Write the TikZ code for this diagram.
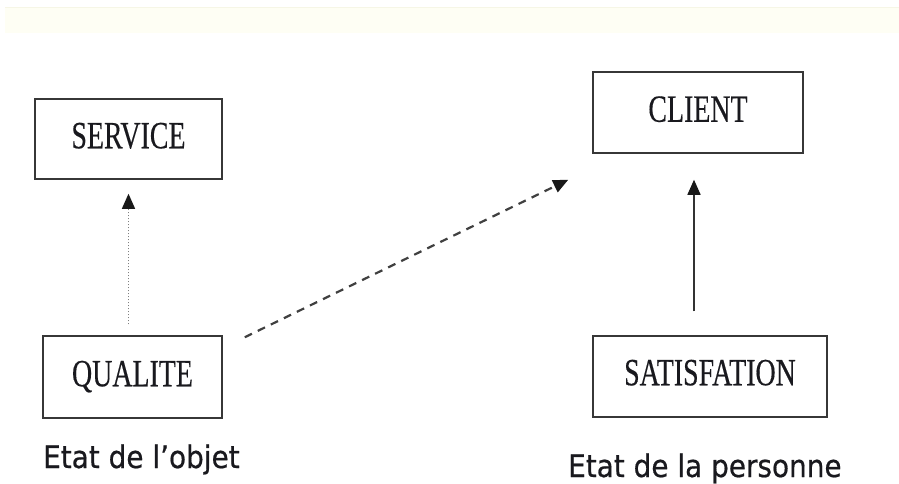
\documentclass[tikz,border=0pt]{standalone}
\usepackage{fontspec}
\usetikzlibrary{arrows.meta}
\newfontfamily\boxfont[FakeBold=0.4]{Liberation Serif}
\newfontfamily\capfont[FakeBold=0.6]{DejaVu Sans}
\definecolor{bandcol}{RGB}{254,254,244}
\definecolor{bandline}{RGB}{246,246,230}
\definecolor{linecol}{RGB}{55,55,55}
\definecolor{txtcol}{RGB}{25,25,30}
\tikzset{
  boxnode/.style={draw=linecol, line width=1.5pt, rectangle, inner sep=0pt},
  boxtext/.style={inner sep=0pt, text height=25.5pt, text depth=0pt, text=txtcol,
    font=\boxfont\fontsize{38.5}{40}\selectfont},
  captext/.style={inner sep=0pt, anchor=base west, text=txtcol,
    font=\capfont\fontsize{31}{33}\selectfont},
  arrowtip/.style={-{Triangle[length=15pt,width=13pt,color=black!90]}},
  dotarrow/.style={arrowtip, draw=gray, line width=1.2pt, dash pattern=on 1.5pt off 1.5pt},
  solidarrow/.style={arrowtip, draw=black!80, line width=1.4pt},
  dasharrow/.style={arrowtip, draw=black!75, line width=2.2pt, dash pattern=on 8pt off 6.5pt}
}
\newcommand{\sqzbox}[1]{\scalebox{0.725}[1]{#1}}
\newcommand{\sqzcap}[1]{\scalebox{0.90}[1]{#1}}
\begin{document}
\begin{tikzpicture}[x=1pt,y=-1pt]
\useasboundingbox (0,0) rectangle (899,484);
\fill[white] (0,0) rectangle (899,484);
\fill[bandcol] (5,7) rectangle (899,33);
\draw[bandline, line width=0.8pt] (5,7) -- (899,7);

\node[boxnode, minimum width=187pt, minimum height=80pt] (service) at (128.5,139) {};
\node[boxnode, minimum width=210pt, minimum height=81pt] (client) at (698,112.5) {};
\node[boxnode, minimum width=179pt, minimum height=82pt] (qualite) at (132.5,377) {};
\node[boxnode, minimum width=234pt, minimum height=81pt] (satis) at (710,376.5) {};

\node[boxtext] (tservice) at ([yshift=3.5pt]service.center) {\sqzbox{SERVICE}};
\node[boxtext] (tclient) at ([yshift=3.5pt]client.center) {\sqzbox{CLIENT}};
\node[boxtext] (tqualite) at ([yshift=3.5pt]qualite.center) {\sqzbox{QUALITE}};
\node[boxtext] (tsatis) at ([yshift=4pt]satis.center) {\sqzbox{SATISFATION}};

\node[captext] (cap1) at (43,468) {\sqzcap{Etat de l’objet}};
\node[captext] (cap2) at (568,477) {\sqzcap{Etat de la personne}};

\draw[dotarrow, shorten <=11pt, shorten >=14pt] (service.south |- qualite.north) -- (service.south);
\draw[solidarrow, shorten <=24pt, shorten >=26pt] ([xshift=-4pt]client.south |- satis.north) -- ([xshift=-4pt]client.south);
\draw[dasharrow] ([shift={(22,2)}]qualite.north east) -- ([shift={(-24,26)}]client.south west);
\end{tikzpicture}
\end{document}
